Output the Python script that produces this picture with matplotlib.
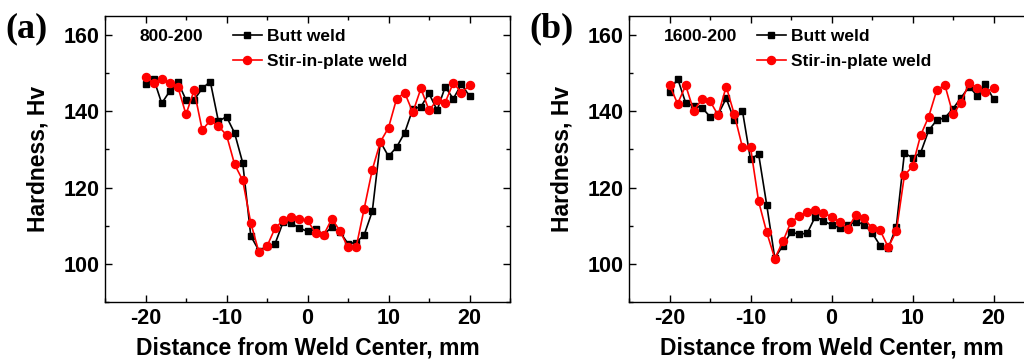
import numpy as np
import matplotlib.pyplot as plt
from matplotlib.ticker import MultipleLocator

# Hardness profiles across the weld, sampled every 1 mm
distance = np.arange(-20, 21)

# (a) 800-200
butt_a = [147.1, 148.6, 142.1, 145.3, 147.7, 143.0, 143.0, 146.0, 147.8, 137.4,
          138.6, 134.3, 126.5, 107.3, 103.5, 104.6, 105.3, 111.0, 110.7, 109.4,
          108.5, 109.1, 107.6, 109.7, 108.4, 105.3, 105.6, 107.6, 113.8, 132.0,
          128.2, 130.6, 134.4, 140.6, 141.2, 144.7, 140.3, 146.4, 143.3, 147.1,
          144.0]
stir_a = [149.0, 147.4, 148.6, 147.4, 146.4, 139.2, 145.5, 135.1, 137.6, 136.1,
          133.8, 126.1, 121.9, 110.7, 103.1, 104.6, 109.4, 111.4, 112.4, 111.8,
          111.4, 108.1, 107.6, 111.8, 108.7, 104.3, 104.3, 114.5, 124.7, 132.0,
          135.7, 143.3, 144.9, 139.7, 146.0, 140.3, 142.9, 142.3, 147.5, 144.9,
          146.8]

# (b) 1600-200
butt_b = [145.1, 148.6, 142.2, 141.4, 141.0, 138.6, 139.2, 143.4, 137.7, 140.2,
          127.4, 128.8, 115.5, 101.5, 104.8, 108.3, 107.8, 108.0, 112.4, 111.3,
          110.2, 109.5, 110.1, 111.1, 110.3, 108.2, 104.8, 104.1, 109.7, 129.1,
          127.8, 129.1, 135.0, 137.7, 138.3, 140.7, 143.6, 146.5, 144.0, 147.1,
          143.2]
stir_b = [146.9, 142.0, 146.8, 140.1, 143.2, 142.7, 139.0, 146.5, 139.2, 130.6,
          130.6, 116.4, 108.3, 101.4, 105.9, 111.0, 112.5, 113.6, 114.0, 113.3,
          112.4, 111.0, 109.1, 112.9, 112.0, 109.4, 108.8, 104.4, 108.5, 123.2,
          125.6, 133.7, 138.6, 145.6, 146.9, 139.2, 142.3, 147.5, 146.0, 145.2,
          146.0]

panels = [('(a)', '800-200', butt_a, stir_a), ('(b)', '1600-200', butt_b, stir_b)]

plt.rcParams['font.family'] = ['Liberation Sans', 'DejaVu Sans']
plt.rcParams['font.weight'] = 'bold'
plt.rcParams['axes.unicode_minus'] = False

W, H = 1024, 361
fig = plt.figure(figsize=(W / 100, H / 100), dpi=100)

lefts = [105, 629]
for (tag, cond, butt, stir), left in zip(panels, lefts):
    ax = fig.add_axes([left / W, 1 - 302 / H, 405 / W, 286 / H])
    ax.plot(distance, butt, color='black', marker='s', markersize=5,
            linewidth=1.2, label='Butt weld')
    ax.plot(distance, stir, color='red', marker='o', markersize=5.8,
            linewidth=1.2, label='Stir-in-plate weld')
    ax.set_xlim(-25, 25)
    ax.set_ylim(90, 165)
    ax.xaxis.set_major_locator(MultipleLocator(10))
    ax.xaxis.set_minor_locator(MultipleLocator(5))
    ax.yaxis.set_major_locator(MultipleLocator(20))
    ax.yaxis.set_minor_locator(MultipleLocator(10))
    ax.tick_params(which='both', direction='in', top=True, right=True,
                   labelsize=15.5, width=1.0, pad=4)
    ax.tick_params(which='major', length=5)
    ax.tick_params(which='minor', length=3)
    for lab in ax.get_xticklabels() + ax.get_yticklabels():
        lab.set_fontweight('bold')
    for sp in ax.spines.values():
        sp.set_linewidth(1.0)
    ax.set_xlabel('Distance from Weld Center, mm', fontsize=16.5, fontweight='bold',
                  labelpad=6)
    ax.set_ylabel('Hardness, Hv', fontsize=16.5, fontweight='bold', labelpad=10)
    ax.text(0.085, 0.93, cond, transform=ax.transAxes, fontsize=12.5,
            fontweight='bold', va='center')
    leg = ax.legend(loc='upper left', bbox_to_anchor=(0.315, 0.955), frameon=False,
                    fontsize=12.5, handlelength=1.7, handletextpad=0.3,
                    labelspacing=0.55, borderpad=0, borderaxespad=0)
    for t in leg.get_texts():
        t.set_fontweight('bold')
    fig.text((left - 100) / W, 1 - 29 / H, tag, fontsize=26, fontweight='bold',
             family='Liberation Serif', va='center')

fig.savefig('out.png', dpi=100)
